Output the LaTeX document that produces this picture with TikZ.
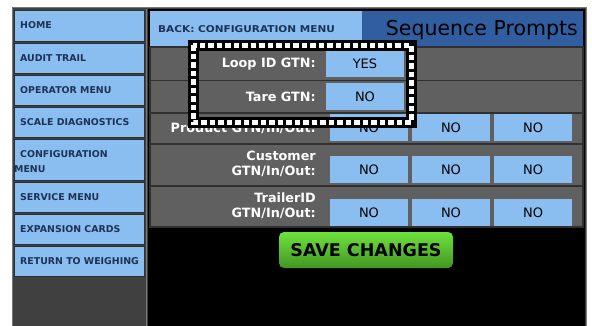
\documentclass[tikz,border=0pt]{standalone}
\usepackage{fontspec}
\setmainfont{DejaVu Sans}
\definecolor{btnblue}{RGB}{139,190,240}
\definecolor{menutext}{RGB}{28,50,86}
\definecolor{titleblue}{RGB}{48,94,160}
\definecolor{rowgray}{RGB}{96,96,96}
\definecolor{leftgray}{RGB}{64,64,64}
\definecolor{framegray}{RGB}{120,120,120}
\definecolor{sepdark}{RGB}{48,48,48}
\definecolor{greentop}{RGB}{110,226,60}
\definecolor{greenbot}{RGB}{66,150,36}
\tikzset{
  menubtn/.style={fill=btnblue, draw=sepdark, line width=0.8pt},
  menulabel/.style={anchor=west, text=menutext, font=\bfseries\fontsize{9.4}{10}\selectfont, align=left, inner sep=0pt},
  valbtn/.style={fill=btnblue, draw=none, minimum width=78pt, minimum height=27pt, inner sep=0pt, font=\fontsize{13}{14}\selectfont, text=black},
  rowlabel/.style={anchor=east, text=white, font=\bfseries\fontsize{12.8}{15}\selectfont, align=right, inner sep=0pt},
  rowbox/.style={fill=rowgray, draw=sepdark, line width=1.2pt},
}
\begin{document}
\begin{tikzpicture}[x=1pt,y=-1pt]
\useasboundingbox (0,0) rectangle (592,326);
\fill[white] (0,0) rectangle (592,326);
% outer frame
\fill[leftgray] (12,8) rectangle (586,326);
\draw[framegray, line width=1pt] (12,326) -- (12,8) -- (586,8) -- (586,326);
% right panel
\fill[black] (148,9) rectangle (584.5,326);
\draw[framegray, line width=1pt] (146,9) -- (146,326);
% left menu
\foreach \nm/\ya/\yb/\txt in {
  home/10/41/HOME,
  audit/43/73/AUDIT TRAIL,
  oper/75/105/OPERATOR MENU,
  scale/107/137/SCALE DIAGNOSTICS,
  service/182/212/SERVICE MENU,
  expan/214/244/EXPANSION CARDS,
  ret/246/276/RETURN TO WEIGHING}{
  \draw[menubtn] (14,\ya) rectangle (144,\yb);
  \node[menulabel] (m\nm) at (20,{(\ya+\yb)/2}) {\txt};
}
\draw[menubtn] (14,139) rectangle (144,180);
\node[menulabel] (mconf1) at (20,154) {CONFIGURATION};
\node[menulabel] (mconf2) at (14,169) {MENU};
% header
\fill[btnblue] (150,11) rectangle (362,46);
\node[anchor=west, text=menutext, font=\bfseries\fontsize{9.4}{10}\selectfont, inner sep=0pt] (back) at (158,29) {\scalebox{1.12}[1]{BACK: CONFIGURATION MENU}};
\fill[titleblue] (362,11) rectangle (583,46);
\node[anchor=east, text=black, font=\fontsize{20.5}{22}\selectfont, inner sep=0pt] (title) at (578,30) {Sequence Prompts};
% rows
\draw[rowbox] (150,47) rectangle (583,80.5);
\draw[rowbox] (150,80.5) rectangle (583,113);
\draw[rowbox] (150,113) rectangle (583,144);
\draw[rowbox] (150,144) rectangle (583,186);
\draw[rowbox] (150,186) rectangle (583,227);
% labels
\node[rowlabel] (l1) at (316,64) {Loop ID GTN:};
\node[rowlabel] (l2) at (316,97) {Tare GTN:};
\node[rowlabel] (l3) at (316,128) {Product GTN/In/Out:};
\node[rowlabel] (l4) at (316,164) {Customer\\GTN/In/Out:};
\node[rowlabel] (l5) at (316,206) {TrailerID\\GTN/In/Out:};
% values
\node[valbtn] (v1) at (365,64) {YES};
\node[valbtn] (v2) at (365,96.5) {NO};
\foreach \r/\yc in {3/128, 4/170, 5/212.5}{
  \node[valbtn] (v\r a) at (369,\yc) {NO};
  \node[valbtn] (v\r b) at (451,\yc) {NO};
  \node[valbtn] (v\r c) at (533,\yc) {NO};
}
% dashed highlight box
\draw[black, line width=11pt] (193,45.5) rectangle (411,122.5);
\draw[white, line width=5pt, dash pattern=on 5.5pt off 3pt] (193,45.5) rectangle (411,122.5);
% save button
\shade[top color=greentop, bottom color=greenbot, rounded corners=5pt] (279,232) rectangle (453,268);
\node[font=\bfseries\fontsize{17.5}{19}\selectfont, text=black, inner sep=0pt] (save) at (366,250.5) {SAVE CHANGES};
\end{tikzpicture}
\end{document}
